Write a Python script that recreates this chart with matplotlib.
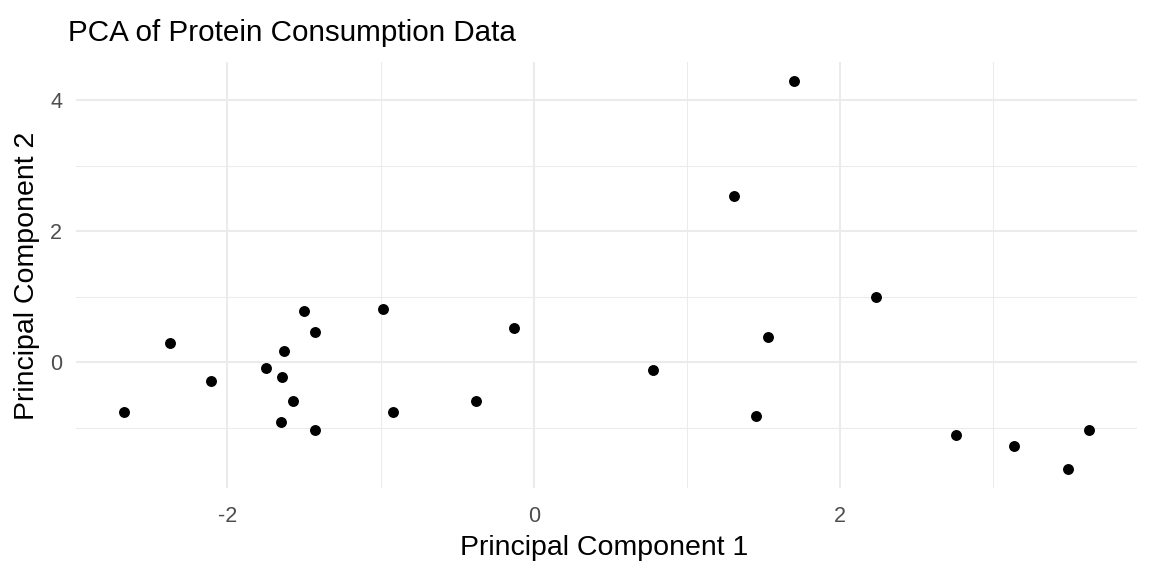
import matplotlib
matplotlib.use("Agg")
import matplotlib.pyplot as plt
import numpy as np

plt.rcParams['font.family'] = ['Liberation Sans', 'DejaVu Sans']

pc1 = [1.698, 1.307, 2.233, 1.528, 0.778, 1.450, 2.755, 3.133, 3.622, 3.485,
       -1.498, -0.983, -0.128, -2.372, -1.431, -1.629, -1.746, -1.642, -2.105,
       -1.570, -0.376, -2.673, -0.918, -1.648, -1.431]
pc2 = [4.29, 2.54, 0.996, 0.396, -0.11, -0.81, -1.11, -1.28, -1.03, -1.62,
       0.79, 0.82, 0.53, 0.29, 0.46, 0.17, -0.09, -0.22, -0.29,
       -0.59, -0.59, -0.76, -0.75, -0.91, -1.03]

title = "PCA of Protein Consumption Data"
xlabel = "Principal Component 1"
ylabel = "Principal Component 2"
xticks = [-2, 0, 2]
yticks = [0, 2, 4]
xminor = [-1, 1, 3]
yminor = [-1, 1, 3]

W, H = 1152, 576
fig = plt.figure(figsize=(W / 100, H / 100), dpi=100)
ax = fig.add_axes([76 / W, 1 - 488 / H, (1137 - 76) / W, (488 - 62) / H])

ax.scatter(pc1, pc2, s=62, color='black', linewidths=0, zorder=3)

def expand(v):
    lo, hi = min(v), max(v)
    r = hi - lo
    return lo - 0.05 * r, hi + 0.05 * r

ax.set_xlim(*expand(pc1))
ax.set_ylim(*expand(pc2))

ax.set_xticks(xticks)
ax.set_yticks(yticks)
ax.set_xticks(xminor, minor=True)
ax.set_yticks(yminor, minor=True)
ax.set_xticklabels([str(t) for t in xticks])
ax.set_yticklabels([str(t) for t in yticks])

ax.grid(True, which='major', color='#EBEBEB', linewidth=1.5)
ax.grid(True, which='minor', color='#EBEBEB', linewidth=0.75)
ax.set_axisbelow(True)
for s in ax.spines.values():
    s.set_visible(False)
ax.tick_params(which='both', length=0)
ax.tick_params(axis='x', pad=13, labelsize=15.5, labelcolor='#4D4D4D')
ax.tick_params(axis='y', pad=10, labelsize=15.5, labelcolor='#4D4D4D')

fig.text(68 / W, 1 - 41 / H, title, fontsize=21.3, ha='left', va='baseline', color='black')
fig.text(604 / W, 1 - 555 / H, xlabel, fontsize=20.5, ha='center', va='baseline', color='black')
fig.text(27 / W, 1 - 276 / H, ylabel, fontsize=20.5, ha='center', va='center', rotation=90, color='black')

fig.savefig("out.png", dpi=100, facecolor='white')
